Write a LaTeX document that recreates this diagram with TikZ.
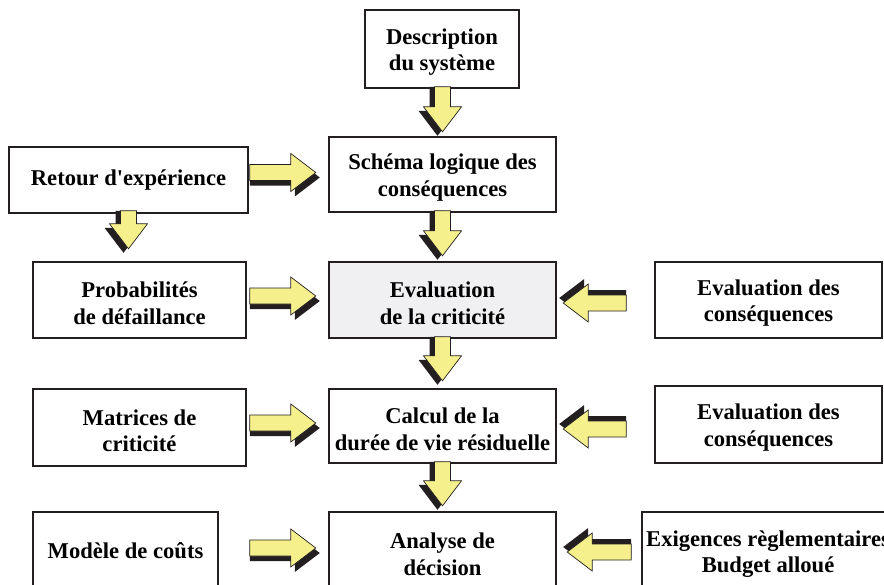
\documentclass[tikz,border=0pt]{standalone}
\usepackage{fontspec}
\setmainfont{Liberation Serif}
\usetikzlibrary{calc}
\definecolor{trait}{RGB}{35,31,32}
\definecolor{jaune}{RGB}{245,240,140}
\definecolor{grisclair}{RGB}{240,240,242}
\newcommand{\hautligne}{\rule{0pt}{22pt}}
\tikzset{
  bloc/.style={draw=trait, line width=2.4pt, fill=white, align=center,
    font=\fontsize{22.6}{26.5}\selectfont\bfseries, inner sep=4pt},
  arrowlen/.store in=\arrowlen, arrowlen=66,
  % fleche epaisse, pointe a l'origine, ombre decalee
  pics/flechebloc/.style={code={
    \fill[trait] (4,5) -- (-21,-14) -- (-21,-3) -- (-\arrowlen,-3)
      -- (-\arrowlen,13) -- (-21,13) -- (-21,24) -- cycle;
    \filldraw[fill=jaune, draw=trait, line width=0.7pt] (0,0) -- (-25,-19)
      -- (-25,-8) -- (-\arrowlen,-8) -- (-\arrowlen,8) -- (-25,8) -- (-25,19) -- cycle;
  }}
}
\begin{document}
\begin{tikzpicture}[x=1pt, y=-1pt]
  \useasboundingbox (0,0) rectangle (884,584);
  \clip (0,0) rectangle (884,584);

  \node[bloc, minimum width=154pt, minimum height=78pt] (desc) at (442,49) {\hautligne Description\\du système};
  \node[bloc, minimum width=227pt, minimum height=75pt] (schema) at (442.5,174.5) {\hautligne Schéma logique des\\conséquences};
  \node[bloc, minimum width=239pt, minimum height=66pt] (retour) at (128.5,180) {Retour d\textquotesingle expérience};
  \node[bloc, minimum width=213pt, minimum height=76pt] (proba) at (139.5,300) {\hautligne Probabilités\\de défaillance};
  \node[bloc, fill=grisclair, minimum width=227pt, minimum height=76pt] (crit) at (442.5,300) {\hautligne Evaluation\\de la criticité};
  \node[bloc, minimum width=227pt, minimum height=76pt] (cons1) at (768.5,300) {\hautligne Evaluation des\\conséquences};
  \node[bloc, minimum width=213pt, minimum height=77pt] (matrices) at (139.5,427.5) {\hautligne Matrices de\\criticité};
  \node[bloc, minimum width=227pt, minimum height=74pt] (calcul) at (442.5,426) {\hautligne Calcul de la\\durée de vie résiduelle};
  \node[bloc, minimum width=227pt, minimum height=77pt] (cons2) at (768.5,424.5) {\hautligne Evaluation des\\conséquences};
  \node[bloc, minimum width=185pt, minimum height=78pt] (modele) at (125.5,551) {Modèle de coûts};
  \node[bloc, minimum width=227pt, minimum height=78pt] (analyse) at (442.5,551) {\hautligne Analyse de\\décision};
  \node[bloc, anchor=west, minimum width=249pt, minimum height=78pt] (exig) at (641,551) {\hautligne Exigences règlementaires\\Budget alloué};

  % vers le bas
  \pic[rotate=-90, arrowlen=45] at ($(schema.north)+(0,-4)$) {flechebloc};
  \pic[rotate=-90, arrowlen=45] at ($(crit.north)+(0,-5)$) {flechebloc};
  \pic[rotate=-90, arrowlen=44] at ($(calcul.north)+(0,-7)$) {flechebloc};
  \pic[rotate=-90, arrowlen=44] at ($(analyse.north)+(0,-5)$) {flechebloc};
  \pic[rotate=-90, arrowlen=38] at ($(retour.south |- proba.north)+(0,-12)$) {flechebloc};
  % vers la droite
  \pic at ($(schema.west)+(-12,-2)$) {flechebloc};
  \pic at ($(crit.west)+(-12,-4)$) {flechebloc};
  \pic at ($(calcul.west)+(-12,-3)$) {flechebloc};
  \pic at ($(analyse.west)+(-12,-3)$) {flechebloc};
  % vers la gauche
  \pic[rotate=180, arrowlen=63] at ($(crit.east)+(6,3)$) {flechebloc};
  \pic[rotate=180, arrowlen=63] at ($(calcul.east)+(6,3)$) {flechebloc};
  \pic[rotate=180, arrowlen=64] at ($(analyse.east)+(10,1)$) {flechebloc};
\end{tikzpicture}
\end{document}
